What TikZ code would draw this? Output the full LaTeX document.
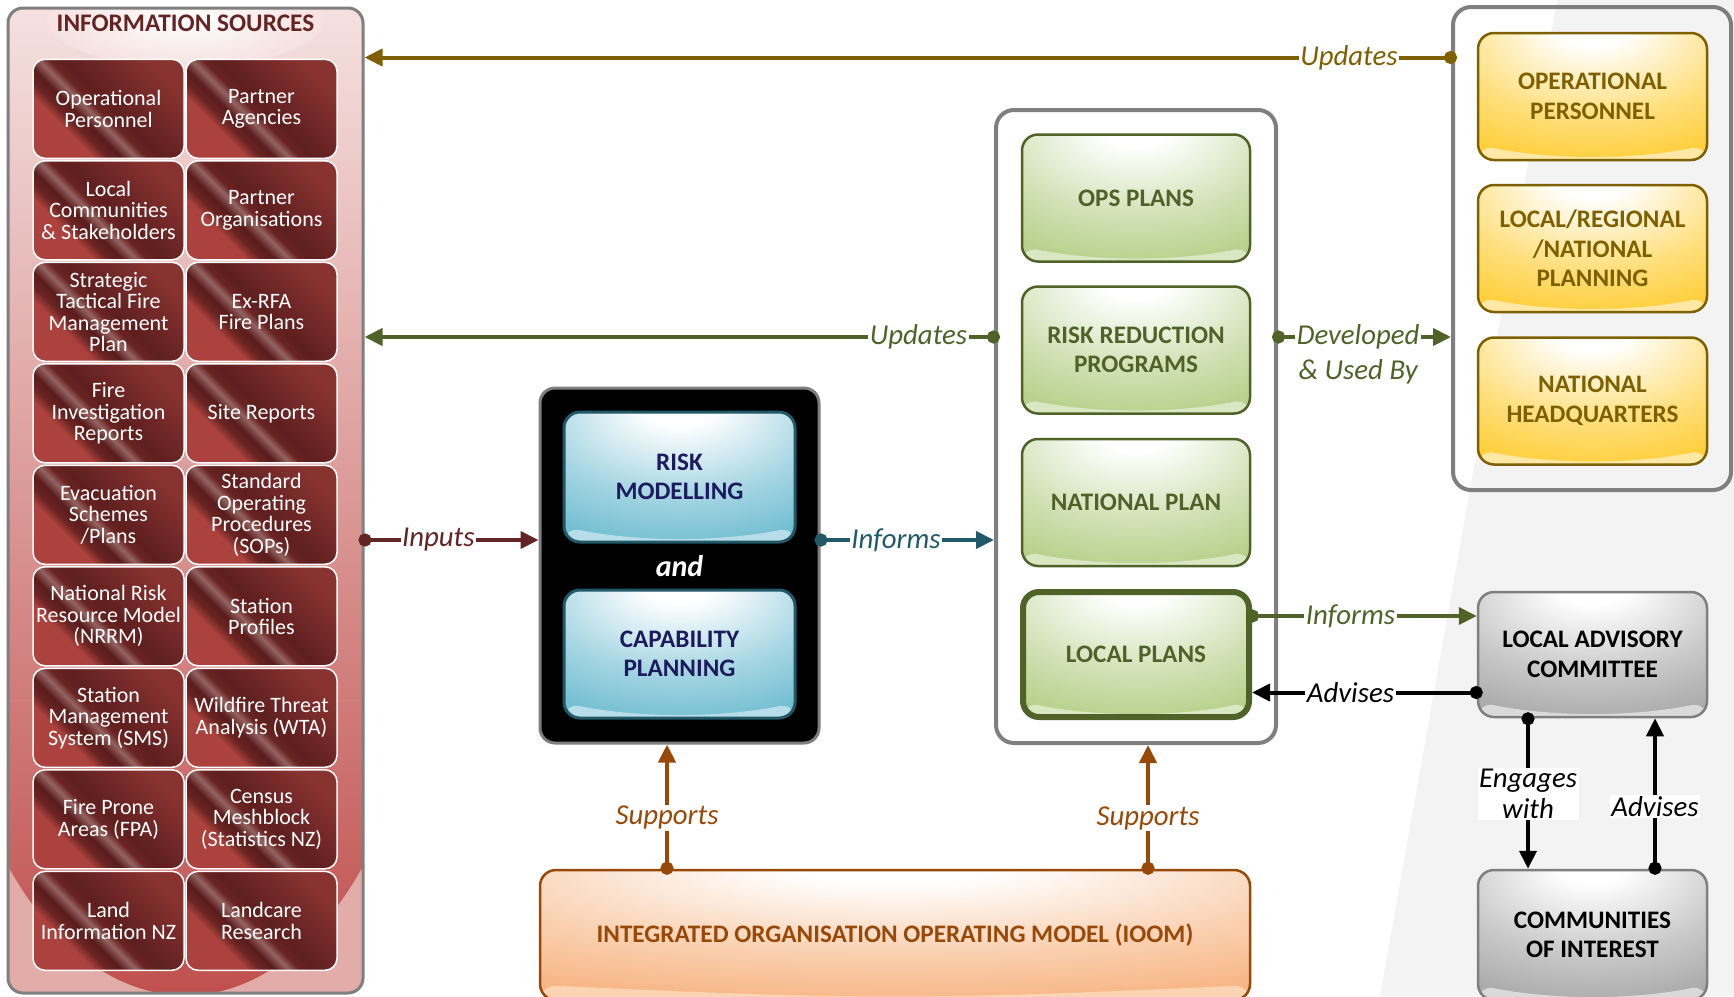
\documentclass[tikz,border=0pt]{standalone}
\usepackage{fontspec}
\setmainfont{Carlito}
\usetikzlibrary{arrows.meta}
\definecolor{grn}{HTML}{4F6228}
\definecolor{grnfill}{HTML}{A2C36A}
\definecolor{grngloss}{HTML}{D9E7C3}
\definecolor{yel}{HTML}{7F6000}
\definecolor{yelfill}{HTML}{FFC000}
\definecolor{yelgloss}{HTML}{FFE8A6}
\definecolor{tealb}{HTML}{215968}
\definecolor{tealfill}{HTML}{4BACC6}
\definecolor{tealgloss}{HTML}{B7DEE8}
\definecolor{navy}{HTML}{1C1B5E}
\definecolor{greyb}{HTML}{7F7F7F}
\definecolor{greyfill}{HTML}{939393}
\definecolor{greygloss}{HTML}{DADADA}
\definecolor{orb}{HTML}{984807}
\definecolor{orfill}{HTML}{F5A060}
\definecolor{orgloss}{HTML}{FBD4B4}
\definecolor{inred}{HTML}{632523}
\definecolor{bggrey}{HTML}{F3F3F3}
\definecolor{pinktop}{HTML}{F5E1E0}
\definecolor{pinkbot}{HTML}{E2ACA9}
\definecolor{pinkmid}{HTML}{DC9692}
\definecolor{redc}{HTML}{C0504D}
\definecolor{rb1}{HTML}{AC423D}
\definecolor{rb2}{HTML}{6A2422}
\definecolor{rb3}{HTML}{5A1C1C}
\definecolor{rb4}{HTML}{946462}
\definecolor{rb5}{HTML}{5E1F1E}
\definecolor{rb6}{HTML}{6E2626}
\definecolor{rb7}{HTML}{88332F}
\colorlet{glosscol}{grnfill}
\pgfdeclareradialshading[glosscol]{glossy}{\pgfpoint{0bp}{30bp}}{color(0bp)=(white); color(8bp)=(white); color(30bp)=(glosscol!50!white); color(58bp)=(glosscol); color(120bp)=(glosscol)}
\pgfdeclarehorizontalshading{redbands}{100bp}{color(0bp)=(rb1); color(32bp)=(rb1); color(36bp)=(rb2); color(40bp)=(rb3); color(44bp)=(rb4); color(47bp)=(rb2); color(51bp)=(rb5); color(60bp)=(rb6); color(75bp)=(rb7); color(100bp)=(rb7)}
\tikzset{
  gloss/.style={path picture={\fill[#1] ([yshift=15pt]path picture bounding box.south west) .. controls ([xshift=-40pt]path picture bounding box.south) and ([xshift=40pt]path picture bounding box.south) .. ([yshift=15pt]path picture bounding box.south east) |- (path picture bounding box.south west) -- cycle;}},
  src/.style={draw=white, line width=1.5pt, rounded corners=12pt, minimum width=151pt, minimum height=99pt, inner sep=0pt, text=white, align=center, font=\fontsize{22}{21.5}\selectfont, shading=redbands, shading angle=45},
  cbox/.style={rounded corners=16pt, minimum width=228pt, minimum height=127pt, inner sep=0pt, align=center, line width=2.5pt, font=\bfseries\fontsize{25.2}{29.5}\selectfont},
  greenbox/.style={cbox, draw=grn, text=grn, /utils/exec={\colorlet{glosscol}{grnfill}}, shading=glossy, gloss=grngloss},
  yelbox/.style={cbox, minimum width=229pt, draw=yel, text=yel, /utils/exec={\colorlet{glosscol}{yelfill}}, shading=glossy, gloss=yelgloss},
  tealbox/.style={cbox, minimum width=231pt, line width=3pt, draw=tealb, text=navy, /utils/exec={\colorlet{glosscol}{tealfill}}, shading=glossy, gloss=tealgloss},
  greybox/.style={cbox, minimum width=229pt, draw=greyb, text=black, /utils/exec={\colorlet{glosscol}{greyfill}}, shading=glossy, gloss=greygloss},
  orbox/.style={cbox, draw=orb, text=orb, /utils/exec={\colorlet{glosscol}{orfill}}, shading=glossy, gloss=orgloss},
  frame/.style={draw=greyb, line width=4pt, rounded corners=18pt, inner sep=0pt},
  conn/.style={line width=4pt, shorten <=-6pt, {Circle[length=13pt,width=13pt]}-{Triangle[length=18pt,width=17pt]}},
  lab/.style={fill=white, inner sep=1.5pt, align=center, font=\itshape\fontsize{28.8}{31}\selectfont},
}
\begin{document}
\begin{tikzpicture}[x=1pt,y=-1pt]
\useasboundingbox (0,0) rectangle (1734,996);
\clip (0,0) rectangle (1734,996);
\fill[white] (0,0) rectangle (1734,996);
\fill[bggrey] (1557,0) -- (1734,0) -- (1734,996) -- (1380,996) -- cycle;

% information sources panel
\node[draw=greyb, line width=3pt, rounded corners=15pt, minimum width=355pt, minimum height=985pt, inner sep=0pt,
  top color=pinktop, middle color=pinkmid, bottom color=redc,
  path picture={
    \begin{scope}
      \clip ([yshift=-200pt]path picture bounding box.center) ++(-300pt,0pt) rectangle ++(600pt,-400pt);
      \fill[pinkbot, even odd rule] ([yshift=-200pt]path picture bounding box.center) ++(-300pt,0pt) rectangle ++(600pt,-400pt)
        ([yshift=-100pt]path picture bounding box.center) ellipse [x radius=240pt, y radius=395pt];
    \end{scope}
    \shade[inner color=white, outer color=pinktop] ([yshift=-10pt]path picture bounding box.north) ellipse [x radius=140pt, y radius=50pt];
  }] (panel) at (185.5,500.5) {};
\node[font=\bfseries\fontsize{25.3}{28}\selectfont, text=inred] (ttl) at (185.5,23) {INFORMATION SOURCES};

\node[src] (s11) at (108.5,108.8) {Operational\\Personnel};
\node[src] (s12) at (261.5,108.8) {Partner\\Agencies};
\node[src] (s21) at (108.5,210.3) {Local\\Communities\\\& Stakeholders};
\node[src] (s22) at (261.5,210.3) {Partner\\Organisations};
\node[src] (s31) at (108.5,311.8) {Strategic\\Tactical Fire\\Management\\Plan};
\node[src] (s32) at (261.5,311.8) {Ex-RFA\\Fire Plans};
\node[src] (s41) at (108.5,413.3) {Fire\\Investigation\\Reports};
\node[src] (s42) at (261.5,413.3) {Site Reports};
\node[src] (s51) at (108.5,514.8) {Evacuation\\Schemes\\/Plans};
\node[src] (s52) at (261.5,514.8) {Standard\\Operating\\Procedures\\(SOPs)};
\node[src] (s61) at (108.5,616.3) {National Risk\\Resource Model\\(NRRM)};
\node[src] (s62) at (261.5,616.3) {Station\\Profiles};
\node[src] (s71) at (108.5,717.8) {Station\\Management\\System (SMS)};
\node[src] (s72) at (261.5,717.8) {Wildfire Threat\\Analysis (WTA)};
\node[src] (s81) at (108.5,819.3) {Fire Prone\\Areas (FPA)};
\node[src] (s82) at (261.5,819.3) {Census\\Meshblock\\(Statistics NZ)};
\node[src] (s91) at (108.5,920.8) {Land\\Information NZ};
\node[src] (s92) at (261.5,920.8) {Landcare\\Research};

% risk modelling block
\node[fill=black, draw=greyb, line width=3pt, rounded corners=15pt, minimum width=279pt, minimum height=355pt, inner sep=0pt] (bb) at (679.5,565.5) {};
\node[tealbox, minimum height=130pt] (rm) at (679.5,477) {RISK\\MODELLING};
\node[text=white, font=\bfseries\itshape\fontsize{30}{34}\selectfont] (andn) at (679.5,566) {and};
\node[tealbox, minimum height=128pt] (cp) at (679.5,654) {CAPABILITY\\PLANNING};

% plans frame
\node[frame, minimum width=280pt, minimum height=633pt] (mframe) at (1136,426.5) {};
\node[greenbox] (ops) at (1136,198) {OPS PLANS};
\node[greenbox] (rrp) at (1136,350) {RISK REDUCTION\\PROGRAMS};
\node[greenbox] (np) at (1136,502.5) {NATIONAL PLAN};
\node[greenbox, line width=6pt, minimum width=226pt, minimum height=125pt] (lp) at (1136,654.5) {LOCAL PLANS};

% users frame
\node[frame, minimum width=278pt, minimum height=483pt] (rframe) at (1592,248.5) {};
\node[yelbox] (op) at (1592.5,96.5) {OPERATIONAL\\PERSONNEL};
\node[yelbox] (lrn) at (1592.5,248.5) {LOCAL/REGIONAL\\/NATIONAL\\PLANNING};
\node[yelbox] (nhq) at (1592.5,401) {NATIONAL\\HEADQUARTERS};

% community
\node[greybox, minimum height=125pt] (lac) at (1592.5,654.5) {LOCAL ADVISORY\\COMMITTEE};
\node[greybox, minimum height=130pt] (coi) at (1592.5,935) {COMMUNITIES\\OF INTEREST};

% IOOM
\node[orbox, minimum width=710pt, minimum height=130pt] (ioom) at (895,935) {INTEGRATED ORGANISATION OPERATING MODEL (IOOM)};

% connectors
\coordinate (yU1) at (0,57.5);
\coordinate (yU2) at (0,337);
\coordinate (yIn) at (0,540);
\coordinate (yI2) at (0,616);
\coordinate (yAd) at (0,692.5);
\coordinate (xEng) at (1528,0);
\coordinate (xAdv) at (1655,0);
\coordinate (xS1) at (667,0);
\coordinate (xS2) at (1148,0);

\draw[conn, yel] (rframe.west |- yU1) -- node[lab, pos=0.094] {Updates} (panel.east |- yU1);
\draw[conn, grn] (mframe.west |- yU2) -- node[lab, pos=0.12] {Updates} (panel.east |- yU2);
\draw[conn, grn] (mframe.east |- yU2) -- node[lab, pos=0.463] (dev) {Developed} (rframe.west |- yU2);
\node[lab, text=grn] (usedby) at ([yshift=-34.5pt]dev.center) {\& Used By};
\draw[conn, inred] (panel.east |- yIn) -- node[lab, pos=0.424] {Inputs} (bb.west |- yIn);
\draw[conn, tealb] (bb.east |- yIn) -- node[lab, pos=0.435] {Informs} (mframe.west |- yIn);
\draw[conn, grn] (lp.east |- yI2) -- node[lab, pos=0.438] {Informs} (lac.west |- yI2);
\draw[conn, black] (lac.west |- yAd) -- node[lab, pos=0.562] {Advises} (lp.east |- yAd);
\draw[conn, black] (lac.south -| xEng) -- node[lab, pos=0.503] {Engages\\with} (coi.north -| xEng);
\draw[conn, black] (coi.north -| xAdv) -- node[lab, pos=0.412] {Advises} (lac.south -| xAdv);
\draw[conn, orb] (ioom.north -| xS1) -- node[lab, pos=0.41] {Supports} (bb.south -| xS1);
\draw[conn, orb] (ioom.north -| xS2) -- node[lab, pos=0.41] {Supports} (mframe.south -| xS2);
\end{tikzpicture}
\end{document}
